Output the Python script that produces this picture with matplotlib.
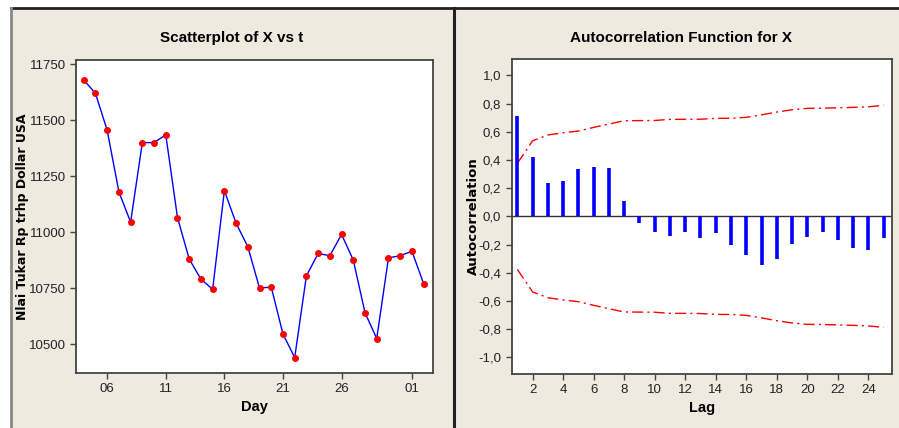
import matplotlib.pyplot as plt
from matplotlib.patches import Rectangle
from matplotlib.lines import Line2D

# data
days = ["04", "05", "06", "07", "08", "09", "10", "11", "12", "13", "14", "15",
        "16", "17", "18", "19", "20", "21", "22", "23", "24", "25", "26", "27",
        "28", "29", "30", "31", "01", "02"]
kurs = [11680, 11620, 11455, 11180, 11045, 11400, 11400, 11435, 11065, 10880,
        10790, 10745, 11185, 11040, 10935, 10750, 10755, 10545, 10440, 10805,
        10905, 10895, 10990, 10875, 10640, 10525, 10885, 10895, 10915, 10770]
day_ticks = ["06", "11", "16", "21", "26", "01"]

lags = list(range(1, 26))
acf = [0.711, 0.42, 0.238, 0.248, 0.333, 0.35, 0.34, 0.106, -0.05, -0.113,
       -0.137, -0.113, -0.154, -0.12, -0.2, -0.274, -0.343, -0.303, -0.194,
       -0.147, -0.113, -0.17, -0.225, -0.239, -0.152]
upper = [0.376, 0.536, 0.577, 0.593, 0.605, 0.631, 0.655, 0.678, 0.679, 0.680,
         0.688, 0.688, 0.689, 0.695, 0.696, 0.702, 0.72, 0.74, 0.756, 0.766,
         0.767, 0.77, 0.773, 0.777, 0.787]
lower = [-u for u in upper]
acf_ticks = [1.0, 0.8, 0.6, 0.4, 0.2, 0.0, -0.2, -0.4, -0.6, -0.8, -1.0]

narrow = ['Liberation Sans Narrow', 'Liberation Sans', 'DejaVu Sans']
bg = '#eeeae0'

fig = plt.figure(figsize=(8.99, 4.28), dpi=100)
fig.patch.set_facecolor('white')
W, H = 899.0, 428.0

# panel background and frame lines
fig.patches.append(Rectangle((11 / W, 0), 1 - 11 / W, 1 - 8 / H, transform=fig.transFigure,
                             facecolor=bg, edgecolor='none', zorder=-10))
fig.lines.append(Line2D([11 / W, 1], [1 - 7.5 / H, 1 - 7.5 / H], transform=fig.transFigure,
                        color='#222222', lw=2, zorder=-5))
fig.lines.append(Line2D([11 / W, 11 / W], [0, 1 - 7.5 / H], transform=fig.transFigure,
                        color='#888888', lw=2, zorder=-5))
fig.lines.append(Line2D([454 / W, 454 / W], [0, 1 - 7.5 / H], transform=fig.transFigure,
                        color='#222222', lw=2.2, zorder=-5))


def style(ax):
    for s in ax.spines.values():
        s.set_color('#444444')
        s.set_linewidth(1.3)
    ax.tick_params(direction='out', length=4, width=1, color='#444444',
                   labelsize=9.5, labelcolor='#222222')
    for lab in ax.get_xticklabels() + ax.get_yticklabels():
        lab.set_family(narrow)


# left: scatterplot
ax1 = fig.add_axes([76 / W, 1 - 373 / H, 357 / W, 313 / H])
x = list(range(len(days)))
ax1.plot(x, kurs, color='blue', lw=1, zorder=2)
ax1.plot(x, kurs, 'o', color='red', ms=4, zorder=3)
ax1.set_xlim(-0.66, 29.8)
ax1.set_ylim(10371, 11769)
ax1.set_xticks([days.index(d) if d != "01" else 28 for d in day_ticks])
ax1.set_xticklabels(day_ticks)
ax1.set_yticks([10500, 10750, 11000, 11250, 11500, 11750])
style(ax1)
ax1.set_xlabel('Day', family=narrow, fontsize=10.5, fontweight='bold', labelpad=3)
ax1.set_ylabel('Nlai Tukar Rp trhp Dollar USA', fontsize=9, fontweight='bold')
ax1.yaxis.set_label_coords((29 - 76) / 357, 0.5)
fig.text(232 / W, 1 - 38 / H, 'Scatterplot of X vs t', ha='center', va='center',
         family=narrow, fontsize=11, fontweight='bold')

# right: ACF
ax2 = fig.add_axes([511.7 / W, 1 - 374 / H, 380.6 / W, 315 / H])
ax2.vlines(lags, 0, acf, color='blue', lw=2.6, zorder=3)
ax2.axhline(0, color='#333333', lw=1, zorder=2)
ax2.plot(lags, upper, color='red', lw=1, dashes=[8, 3, 1.5, 3], zorder=2)
ax2.plot(lags, lower, color='red', lw=1, dashes=[8, 3, 1.5, 3], zorder=2)
ax2.set_xlim(0.63, 25.57)
ax2.set_ylim(-1.118, 1.116)
ax2.set_xticks(list(range(2, 25, 2)))
ax2.set_yticks(acf_ticks)
ax2.set_yticklabels([f"{t:.1f}".replace('.', ',') for t in acf_ticks])
style(ax2)
ax2.set_xlabel('Lag', family=narrow, fontsize=10.5, fontweight='bold', labelpad=3)
ax2.set_ylabel('Autocorrelation', fontsize=9.5, fontweight='bold')
ax2.yaxis.set_label_coords((480 - 511.7) / 380.6, 0.5)
fig.text(681 / W, 1 - 38 / H, 'Autocorrelation Function for X', ha='center', va='center',
         family=narrow, fontsize=11, fontweight='bold')

fig.savefig('out.png', dpi=100, facecolor=fig.get_facecolor())
